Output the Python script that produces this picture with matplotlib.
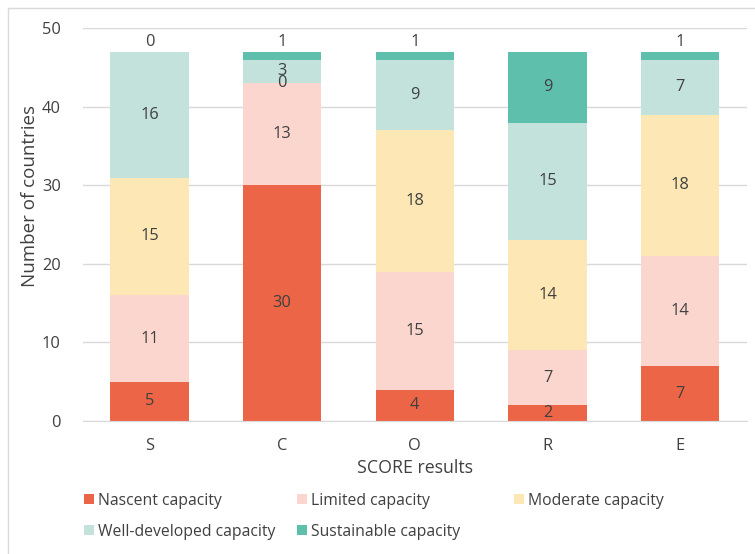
import numpy as np
from matplotlib import pyplot as plt
from matplotlib.lines import Line2D

plt.rcParams['font.family'] = ['Open Sans', 'DejaVu Sans']

categories = ['S', 'C', 'O', 'R', 'E']
series_names = ['Nascent capacity', 'Limited capacity', 'Moderate capacity',
                'Well-developed capacity', 'Sustainable capacity']
nascent = [5, 30, 4, 2, 7]
limited = [11, 13, 15, 7, 14]
moderate = [15, 0, 18, 14, 18]
well_developed = [16, 3, 9, 15, 7]
sustainable = [0, 1, 1, 9, 1]

colors = ['#EC6547', '#FAD6CF', '#FDE8B5', '#C2E2DB', '#5FBFAD']
textcol = '#404040'

values = [nascent, limited, moderate, well_developed, sustainable]

fig = plt.figure(figsize=(7.55, 5.54), dpi=100)
ax = fig.add_axes([0.110, 0.240, 0.879, 0.709])

x = np.arange(len(categories))
bottom = np.zeros(len(categories))
bars = []
for i, vals in enumerate(values):
    vals = np.array(vals, dtype=float)
    b = ax.bar(x, vals, width=0.59, bottom=bottom, color=colors[i],
               label=series_names[i], zorder=2)
    bars.append(b)
    for j in range(len(x)):
        # thin top segments get their label just above the bar
        if i == len(values) - 1 and vals[j] < 2:
            ypos = bottom[j] + vals[j] + 1.3
        else:
            ypos = bottom[j] + vals[j] / 2
        ax.text(x[j], ypos, '%d' % vals[j], ha='center', va='center',
                fontsize=11.8, color=textcol, zorder=3)
    bottom += vals

ax.set_xlim(-0.5, 4.5)
ax.set_ylim(0, 50)
ax.set_yticks(np.arange(0, 51, 10))
ax.set_xticks(x)
ax.set_xticklabels(categories)
ax.yaxis.grid(True, color='#d9d9d9', linewidth=1, zorder=0)
ax.set_axisbelow(True)
for s in ['top', 'right', 'left']:
    ax.spines[s].set_visible(False)
ax.spines['bottom'].set_color('#d9d9d9')
ax.tick_params(axis='both', length=0, labelsize=11.8, labelcolor=textcol)
ax.tick_params(axis='x', pad=12)
ax.tick_params(axis='y', pad=16)
ax.set_xlabel('SCORE results', fontsize=12.8, color=textcol, labelpad=4)
ax.set_ylabel('Number of countries', fontsize=13.5, color=textcol)
ax.yaxis.set_label_coords(-0.066, 0.573)

# legend, three columns placed like the original
cols = [[0, 3], [1, 4], [2]]
xs = [0.111, 0.393, 0.681]
for cx, idx in zip(xs, cols):
    leg = fig.legend([bars[k] for k in idx], [series_names[k] for k in idx],
                     loc='upper left', bbox_to_anchor=(cx, 0.111),
                     frameon=False, fontsize=11.3, handlelength=0.65,
                     handleheight=0.65, handletextpad=0.25, labelspacing=0.97,
                     borderaxespad=0, borderpad=0)
    for t in leg.get_texts():
        t.set_color(textcol)

# light frame of the chart area
fig.add_artist(Line2D([8 / 755, 1], [1 - 8 / 554, 1 - 8 / 554],
                      color='#d9d9d9', linewidth=1))
fig.add_artist(Line2D([8 / 755, 8 / 755], [0, 1 - 8 / 554],
                      color='#d9d9d9', linewidth=1))

fig.savefig('out.png', dpi=100)
